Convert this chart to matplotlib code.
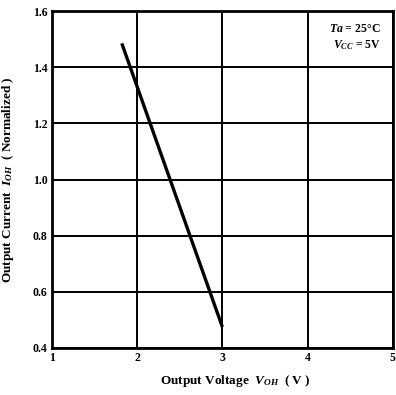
import matplotlib
matplotlib.use("Agg")
import matplotlib.pyplot as plt

# Output current (normalized) vs. output voltage
v_oh = [1.82, 3.0]
i_oh = [1.485, 0.475]

x_ticks = [1, 2, 3, 4, 5]
y_ticks = [0.4, 0.6, 0.8, 1.0, 1.2, 1.4, 1.6]

plt.rcParams["font.family"] = ["Liberation Serif", "DejaVu Serif"]
plt.rcParams["mathtext.fontset"] = "custom"
plt.rcParams["mathtext.it"] = "Liberation Serif:italic:bold"
plt.rcParams["mathtext.rm"] = "Liberation Serif:bold"

fig = plt.figure(figsize=(3.96, 3.95), dpi=100)
ax = fig.add_axes([0.131, 0.119, 0.861, 0.853])

ax.plot(v_oh, i_oh, color="black", lw=2.4, solid_capstyle="butt")

ax.set_xlim(1, 5)
ax.set_ylim(0.4, 1.6)
ax.set_xticks(x_ticks)
ax.set_yticks(y_ticks)
ax.set_xticklabels([str(t) for t in x_ticks], fontsize=8.5, fontweight="bold")
ax.set_yticklabels([f"{t:.1f}" for t in y_ticks], fontsize=8.5, fontweight="bold")
ax.tick_params(length=0, pad=3)
ax.grid(True, color="black", lw=1.4)
for s in ax.spines.values():
    s.set_linewidth(2.0)

ax.text(0.965, 0.965, "$Ta$ = 25°C\n$V_{CC}$ = 5V", transform=ax.transAxes,
        ha="right", va="top", fontsize=8.5, fontweight="bold", linespacing=1.3)

fig.text(0.594, 0.035, r"Output Voltage  $V_{OH}$  ( V )", ha="center", va="center",
         fontsize=9.5, fontweight="bold")
fig.text(0.02, 0.545, r"Output Current  $I_{OH}$  ( Normalized )", ha="center", va="center",
         rotation=90, fontsize=9.5, fontweight="bold")

fig.savefig("out.png", dpi=100)
